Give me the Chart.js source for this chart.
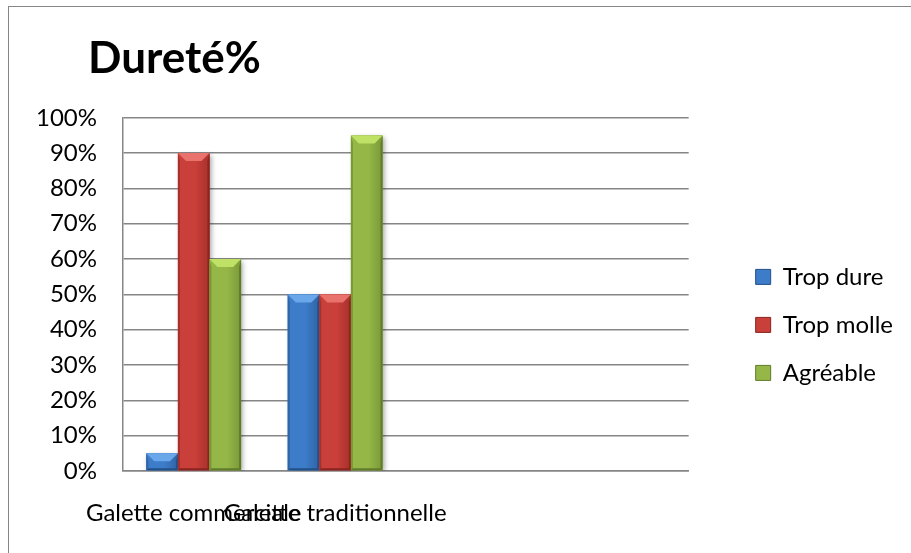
<!DOCTYPE html>
<html>
<head>
<meta charset="utf-8">
<script src="https://cdn.jsdelivr.net/npm/chart.js@4"></script>
<style>
    html, body { margin: 0; padding: 0; background: #fff; overflow: hidden; }
    #frame { position: absolute; left: 8px; top: 6px; width: 1000px; height: 700px;
             border-left: 1.5px solid #868686; border-top: 1.5px solid #868686; }
    #wrap { position: absolute; left: 0; top: 0; width: 911px; height: 553px; }
</style>
</head>
<body>
<div id="frame"></div>
<div id="wrap"><canvas id="chart"></canvas></div>
<script>
// Data
const categories = ['Galette commerciale', 'Galette traditionnelle', '', ''];
const seriesNames = ['Trop dure', 'Trop molle', 'Agréable'];
const tropDure = [5, 50, null, null];
const tropMolle = [90, 50, null, null];
const agreable = [60, 95, null, null];
const yMin = 0;
const yMax = 100;
const yStep = 10;

// Excel-like bevel shades per series
const shades = [
    { base: '#3d7cc8', light: '#6aa6ea', edge: '#2f64a6', dark: '#22508a' },
    { base: '#c93f39', light: '#ea726c', edge: '#a8302b', dark: '#8a2420' },
    { base: '#94b748', light: '#bfe266', edge: '#7a9936', dark: '#607c28' }
];

Chart.defaults.font.family = 'Lato, "Open Sans", sans-serif';
Chart.defaults.color = '#000';

const bevelPlugin = {
    id: 'bevel',
    afterLayout(chart) {
        // title sits further right than the y axis box
        if (chart.titleBlock) chart.titleBlock.left = 88;
    },
    beforeDatasetsDraw(chart) {
        const ctx = chart.ctx;
        ctx.save();
        ctx.shadowColor = 'rgba(0, 0, 0, 0.35)';
        ctx.shadowBlur = 5;
        ctx.shadowOffsetX = 2;
        ctx.shadowOffsetY = 2;
    },
    afterDatasetsDraw(chart) {
        const ctx = chart.ctx;
        ctx.restore();
        chart.data.datasets.forEach((ds, i) => {
            const meta = chart.getDatasetMeta(i);
            const s = shades[i];
            meta.data.forEach((bar, j) => {
                if (ds.data[j] == null) return;
                const p = bar.getProps(['x', 'y', 'base', 'width'], true);
                const left = p.x - p.width / 2, right = p.x + p.width / 2;
                const top = p.y, bottom = p.base;
                const h = bottom - top;
                const b = Math.min(8, h / 2, p.width / 2);
                const e = 2;

                // body
                const g = ctx.createLinearGradient(left, 0, right, 0);
                g.addColorStop(0, s.base);
                g.addColorStop(0.55, s.base);
                g.addColorStop(1, s.edge);
                ctx.fillStyle = g;
                ctx.fillRect(left, top, right - left, h);

                const poly = (pts, color) => {
                    ctx.beginPath();
                    ctx.moveTo(pts[0][0], pts[0][1]);
                    for (let k = 1; k < pts.length; k++) ctx.lineTo(pts[k][0], pts[k][1]);
                    ctx.closePath();
                    ctx.fillStyle = color;
                    ctx.fill();
                };
                poly([[left, top], [left + e, top + b], [left + e, bottom - e], [left, bottom]], s.edge);
                poly([[right, top], [right - e, top + b], [right - e, bottom - e], [right, bottom]], s.dark);
                poly([[left, bottom], [left + e, bottom - e], [right - e, bottom - e], [right, bottom]], s.dark);
                poly([[left, top], [right, top], [right - b, top + b], [left + b, top + b]], s.light);
            });
        });
    }
};

const ctx = document.getElementById('chart').getContext('2d');
new Chart(ctx, {
    type: 'bar',
    data: {
        labels: categories,
        datasets: [
            { label: seriesNames[0], data: tropDure, backgroundColor: shades[0].base },
            { label: seriesNames[1], data: tropMolle, backgroundColor: shades[1].base },
            { label: seriesNames[2], data: agreable, backgroundColor: shades[2].base }
        ]
    },
    options: {
        responsive: true,
        maintainAspectRatio: false,
        animation: false,
        barPercentage: 1,
        categoryPercentage: 0.67,
        layout: { padding: { left: 10, top: 10, right: 8, bottom: 24 } },
        plugins: {
            title: {
                display: true,
                text: 'Dureté%',
                align: 'start',
                color: '#000',
                font: { size: 44, weight: 'bold' },
                padding: { top: 22, bottom: 33 }
            },
            legend: {
                position: 'right',
                align: 'center',
                fullSize: false,
                maxWidth: 300,
                title: { display: true, text: '', font: { size: 10 }, padding: { top: 49, bottom: 0 } },
                labels: {
                    color: '#000',
                    font: { size: 24 },
                    boxWidth: 15,
                    boxHeight: 15,
                    padding: 24,
                    generateLabels: function (chart) {
                        return Chart.defaults.plugins.legend.labels.generateLabels(chart).map((l, i) => {
                            l.strokeStyle = shades[i].dark;
                            l.lineWidth = 1;
                            return l;
                        });
                    }
                }
            },
            tooltip: { enabled: false }
        },
        scales: {
            x: {
                grid: { display: false, drawTicks: false },
                border: { display: true, color: '#868686', width: 1.5 },
                ticks: {
                    autoSkip: false,
                    maxRotation: 0,
                    minRotation: 0,
                    padding: 28,
                    color: '#000',
                    font: { size: 24 }
                },
                afterFit: function (scale) { scale.height = 58; }
            },
            y: {
                min: yMin,
                max: yMax,
                grid: { color: '#868686', lineWidth: 1.5, drawTicks: false },
                border: { display: true, color: '#868686', width: 1.5 },
                ticks: {
                    stepSize: yStep,
                    padding: 26,
                    color: '#000',
                    font: { size: 24 },
                    callback: function (value) { return value + '%'; }
                },
                afterFit: function (scale) { scale.width = 113; }
            },
            gap: {
                type: 'linear',
                position: 'right',
                grid: { display: false },
                border: { display: false },
                ticks: { display: false },
                afterFit: function (scale) { scale.width = 43; }
            }
        }
    },
    plugins: [bevelPlugin]
});
</script>
</body>
</html>
